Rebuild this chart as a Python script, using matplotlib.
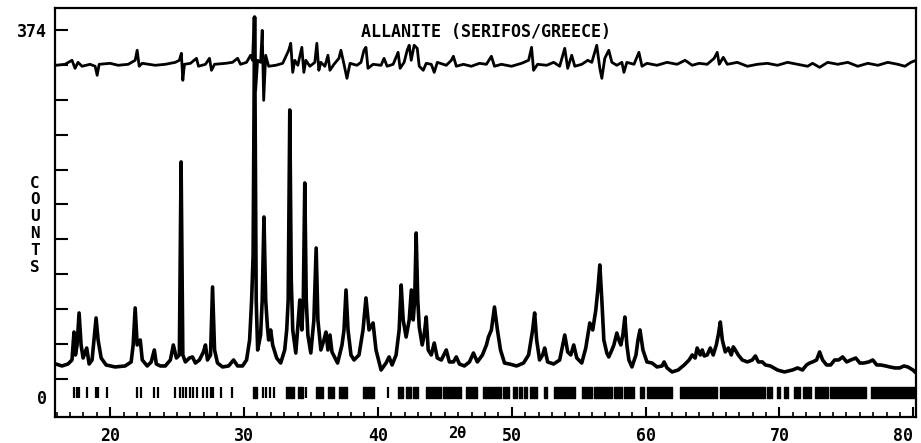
import matplotlib.pyplot as plt
from matplotlib.ticker import MultipleLocator, FixedLocator

two_theta = [15.95, 16.40, 16.85, 17.15, 17.30, 17.41, 17.53, 17.68, 17.83, 17.98,
             18.25, 18.43, 18.65, 18.95, 19.10, 19.33, 19.70, 20.37, 21.12, 21.57,
             21.72, 21.87, 22.02, 22.25, 22.40, 22.77, 23.07, 23.30, 23.45, 23.75,
             24.12, 24.50, 24.72, 24.95, 25.17, 25.30, 25.43, 25.62, 25.92, 26.15,
             26.37, 26.67, 26.97, 27.12, 27.27, 27.50, 27.65, 27.80, 28.02, 28.40,
             28.85, 29.22, 29.52, 29.89, 30.19, 30.42, 30.57, 30.68, 30.79, 30.91,
             31.02, 31.24, 31.36, 31.49, 31.62, 31.75, 31.84, 31.99, 32.14, 32.44,
             32.74, 33.04, 33.19, 33.30, 33.42, 33.53, 33.64, 33.87, 34.17, 34.32,
             34.43, 34.54, 34.65, 34.77, 34.99, 35.22, 35.39, 35.52, 35.74, 35.97,
             36.12, 36.27, 36.42, 36.57, 36.99, 37.32, 37.47, 37.62, 37.77, 37.99,
             38.22, 38.59, 38.89, 39.11, 39.34, 39.64, 39.86, 40.24, 40.61, 40.84,
             41.06, 41.36, 41.59, 41.74, 41.89, 42.11, 42.34, 42.50, 42.64, 42.75,
             42.86, 42.98, 43.09, 43.31, 43.46, 43.61, 43.76, 43.99, 44.21, 44.44,
             44.74, 45.11, 45.34, 45.64, 45.86, 46.09, 46.46, 46.84, 47.14, 47.43,
             47.81, 48.11, 48.26, 48.48, 48.71, 48.93, 49.16, 49.46, 49.83, 50.36,
             50.88, 51.26, 51.56, 51.71, 51.86, 52.08, 52.31, 52.46, 52.68, 53.13,
             53.58, 53.81, 53.96, 54.18, 54.41, 54.63, 54.86, 55.23, 55.53, 55.83,
             56.05, 56.28, 56.43, 56.58, 56.73, 56.88, 57.10, 57.25, 57.48, 57.63,
             57.85, 58.00, 58.15, 58.30, 58.45, 58.60, 58.75, 58.98, 59.28, 59.43,
             59.58, 59.80, 60.10, 60.48, 60.85, 61.23, 61.38, 61.60, 61.98, 62.43,
             62.88, 63.25, 63.48, 63.70, 63.85, 64.08, 64.23, 64.38, 64.60, 64.83,
             65.05, 65.28, 65.43, 65.58, 65.73, 65.95, 66.18, 66.40, 66.55, 66.70,
             66.92, 67.22, 67.60, 67.97, 68.20, 68.42, 68.72, 68.95, 69.32, 69.85,
             70.37, 70.97, 71.35, 71.72, 72.02, 72.25, 72.47, 72.77, 73.00, 73.22,
             73.52, 73.82, 74.12, 74.42, 74.72, 75.02, 75.32, 75.70, 76.00, 76.30,
             76.67, 76.97, 77.27, 77.57, 77.94, 78.24, 78.62, 78.99, 79.29, 79.59,
             79.97, 80.20]
counts = [33.6, 31.6, 33.6, 37.7, 66.2, 42.8, 53.0, 85.6, 53.0, 39.7,
          49.9, 33.6, 37.7, 80.5, 58.1, 39.7, 32.6, 30.6, 31.6, 35.7,
          53.0, 90.7, 53.0, 58.1, 37.7, 31.6, 35.7, 47.9, 33.6, 31.6,
          31.6, 37.7, 53.0, 39.7, 42.8, 239.5, 42.8, 35.7, 39.7, 40.8,
          34.6, 37.7, 45.9, 53.0, 37.7, 42.8, 112.1, 47.9, 34.6, 30.6,
          31.6, 37.7, 31.6, 31.6, 37.7, 58.1, 98.8, 144.7, 387.2, 98.8,
          47.9, 63.2, 98.8, 183.4, 98.8, 71.3, 58.1, 68.3, 53.0, 39.7,
          34.6, 47.9, 68.3, 98.8, 292.5, 119.2, 68.3, 44.8, 98.8, 68.3,
          98.8, 218.1, 98.8, 63.2, 44.8, 78.5, 151.8, 78.5, 47.9, 58.1,
          66.2, 47.9, 63.2, 45.9, 34.6, 53.0, 68.3, 109.0, 68.3, 42.8,
          37.7, 42.8, 68.3, 100.9, 68.3, 75.4, 47.9, 27.5, 34.6, 40.8,
          32.6, 42.8, 68.3, 114.1, 78.5, 61.1, 78.5, 109.0, 78.5, 98.8,
          167.1, 98.8, 71.3, 53.0, 63.2, 81.5, 47.9, 42.8, 55.0, 39.7,
          37.7, 47.9, 35.7, 35.7, 40.8, 33.6, 31.6, 35.7, 44.8, 35.7,
          42.8, 53.0, 61.1, 68.3, 91.7, 68.3, 47.9, 34.6, 33.6, 31.6,
          34.6, 42.8, 68.3, 85.6, 58.1, 37.7, 42.8, 49.9, 35.7, 33.6,
          37.7, 53.0, 63.2, 45.9, 42.8, 53.0, 39.7, 34.6, 49.9, 75.4,
          68.3, 88.7, 109.0, 134.5, 98.8, 58.1, 44.8, 40.8, 47.9, 53.0,
          65.2, 58.1, 53.0, 63.2, 81.5, 53.0, 37.7, 30.6, 42.8, 58.1,
          68.3, 47.9, 35.7, 34.6, 30.6, 31.6, 35.7, 29.6, 25.5, 27.5,
          32.6, 37.7, 42.8, 39.7, 49.9, 42.8, 47.9, 41.8, 42.8, 49.9,
          42.8, 53.0, 63.2, 76.4, 58.1, 45.9, 49.9, 42.8, 51.0, 47.9,
          42.8, 37.7, 35.7, 37.7, 41.8, 35.7, 35.7, 32.6, 31.6, 27.5,
          25.5, 27.5, 29.6, 27.5, 32.6, 34.6, 35.7, 37.7, 45.9, 37.7,
          32.6, 32.6, 37.7, 37.7, 40.8, 35.7, 37.7, 39.7, 34.6, 34.6,
          35.7, 37.7, 32.6, 32.6, 31.6, 30.6, 29.6, 29.6, 31.6, 30.6,
          27.5, 24.5]

# difference curve (obs - calc), drawn around an offset near the top
diff_offset = 339
diff_two_theta = [15.95, 16.63, 17.15, 17.38, 17.60, 17.90, 18.50, 18.88, 19.03, 19.18,
                  20.00, 20.60, 21.35, 21.87, 22.02, 22.17, 22.40, 23.37, 24.12, 24.87,
                  25.17, 25.32, 25.43, 25.55, 26.00, 26.45, 26.60, 27.12, 27.42, 27.57,
                  27.80, 28.62, 29.14, 29.52, 29.74, 30.19, 30.49, 30.64, 30.76, 30.87,
                  31.02, 31.24, 31.36, 31.47, 31.62, 31.84, 32.37, 32.89, 33.34, 33.49,
                  33.64, 33.79, 34.02, 34.32, 34.47, 34.62, 34.92, 35.29, 35.44, 35.59,
                  35.74, 36.04, 36.27, 36.42, 36.72, 37.09, 37.24, 37.47, 37.69, 37.92,
                  38.44, 38.74, 38.96, 39.11, 39.26, 39.64, 40.24, 40.46, 40.69, 41.14,
                  41.51, 41.66, 41.96, 42.19, 42.34, 42.49, 42.71, 42.94, 43.09, 43.39,
                  43.61, 43.99, 44.21, 44.44, 45.11, 45.49, 45.64, 45.86, 46.39, 46.98,
                  47.59, 48.11, 48.48, 48.71, 49.23, 49.98, 50.73, 51.26, 51.48, 51.63,
                  51.93, 52.61, 53.13, 53.58, 53.96, 54.18, 54.48, 54.71, 55.23, 55.68,
                  55.98, 56.35, 56.58, 56.73, 56.95, 57.25, 57.48, 57.85, 58.23, 58.38,
                  58.60, 59.13, 59.50, 59.73, 60.10, 60.85, 61.60, 62.35, 62.95, 63.48,
                  64.00, 64.60, 65.12, 65.35, 65.50, 65.80, 66.10, 66.85, 67.60, 68.35,
                  69.10, 69.85, 70.60, 71.35, 72.10, 72.47, 73.00, 73.60, 74.35, 75.10,
                  75.85, 76.60, 77.35, 78.09, 78.84, 79.37, 79.82, 80.20]
diff_counts = [-1.0, 0.0, 4.1, -4.1, 2.0, -2.0, 0.0, -2.0, -11.2, 0.0,
               1.0, -1.0, 0.0, 4.1, 14.3, -2.0, 1.0, -1.0, 0.0, 2.0,
               4.1, 11.2, -16.3, 0.0, 1.0, 6.1, -2.0, 0.0, 6.1, -6.1,
               0.0, 1.0, 2.0, 6.1, 0.0, 2.0, 9.2, 4.1, 47.9, -26.5,
               4.1, 2.0, 34.6, -36.7, 9.2, -2.0, -1.0, 1.0, 14.3, 21.4,
               -8.2, 4.1, -1.0, 17.3, -8.2, 4.1, -2.0, 2.0, 21.4, -6.1,
               2.0, -2.0, 9.2, -6.1, 0.0, 6.1, 14.3, 0.0, -14.3, 1.0,
               -1.0, 2.0, 14.3, 17.3, -4.1, 0.0, -1.0, 6.1, -2.0, 0.0,
               12.2, -4.1, 2.0, 14.3, 19.4, 4.1, 19.4, 16.3, -2.0, -6.1,
               1.0, 0.0, -8.2, 2.0, -1.0, 4.1, 8.2, -2.0, 0.0, -2.0,
               1.0, 0.0, 8.2, -2.0, 0.0, -2.0, 1.0, 4.1, 17.3, -6.1,
               0.0, -1.0, 2.0, -2.0, 16.3, -4.1, 9.2, -2.0, 0.0, 4.1,
               2.0, 19.4, -4.1, -14.3, 6.1, 14.3, 2.0, -1.0, 2.0, -8.2,
               2.0, 0.0, 12.2, -2.0, 1.0, -1.0, 2.0, 0.0, 4.1, -1.0,
               1.0, 0.0, 6.1, 12.2, 0.0, 7.1, 0.0, 2.0, -2.0, 0.0,
               1.0, -1.0, 2.0, 0.0, -2.0, 1.0, -3.1, 2.0, 0.0, 2.0,
               -2.0, 1.0, -1.0, 2.0, 0.0, -2.0, 2.0, 4.1]

# reflection markers: single lines and the solid bands where they merge
refl_lines = [17.32, 17.50, 17.68, 18.25, 18.91, 19.06, 19.80, 21.99, 22.29, 23.30,
              23.56, 24.87, 25.25, 25.47, 25.70, 26.00, 26.22, 26.52, 26.90, 27.20,
              27.50, 27.72, 28.25, 29.14, 31.39, 31.62, 31.92, 32.22, 34.62, 40.76]
refl_bands = [(30.64, 30.94), (33.12, 33.72), (34.02, 34.39), (35.37, 35.89),
              (36.27, 36.72), (37.09, 37.69), (38.89, 39.71), (41.51, 41.89),
              (42.11, 42.49), (42.64, 43.01), (43.61, 44.74), (44.89, 45.64),
              (45.71, 46.24), (46.61, 47.43), (47.88, 48.63), (48.71, 49.23),
              (49.38, 49.83), (50.13, 50.36), (50.51, 50.73), (50.88, 51.11),
              (51.33, 51.86), (52.38, 52.61), (53.13, 54.71), (55.23, 55.98),
              (56.13, 57.48), (57.63, 58.23), (58.38, 59.13), (59.58, 59.88),
              (60.10, 61.98), (62.58, 65.35), (65.58, 68.95), (69.10, 69.47),
              (69.85, 70.07), (70.37, 70.60), (71.12, 71.50), (71.72, 72.32),
              (72.62, 73.60), (73.75, 76.44), (76.82, 80.19)]

mono = 'DejaVu Sans Mono'

fig = plt.figure(figsize=(9.21, 4.43), dpi=100)
ax = fig.add_axes([0.0597, 0.0587, 0.9349, 0.9233])

ax.plot(two_theta, counts, color='black', lw=2.6, solid_joinstyle='round')
ax.plot(diff_two_theta, [diff_offset + d for d in diff_counts],
        color='black', lw=2.0, solid_joinstyle='round')
ax.vlines(refl_lines, -1, 10, color='black', lw=1.6)
ax.broken_barh([(s, e - s) for s, e in refl_bands], (-1, 11), color='black')

ax.set_xlim(15.88, 80.2)
ax.set_ylim(-20.4, 396.4)

for sp in ax.spines.values():
    sp.set_linewidth(1.6)

ax.xaxis.set_major_locator(MultipleLocator(10))
ax.xaxis.set_minor_locator(MultipleLocator(1))
ax.tick_params(axis='x', which='major', direction='in', length=7, width=1.5, pad=7)
ax.tick_params(axis='x', which='minor', direction='in', length=3.5, width=1.2)

ax.yaxis.set_major_locator(FixedLocator([0, 374]))
ax.yaxis.set_minor_locator(FixedLocator([374 - 35.55 * k for k in range(11)]))
ax.yaxis.remove_overlapping_locs = False
ax.tick_params(axis='y', which='major', length=0, pad=6)
ax.tick_params(axis='y', which='minor', direction='in', length=9, width=1.5)

ax.tick_params(axis='both', which='major', labelsize=12)
for lab in ax.get_xticklabels() + ax.get_yticklabels():
    lab.set_fontfamily(mono)
    lab.set_fontweight('bold')

ax.text(0.5, 0.941, 'ALLANITE (SERIFOS/GREECE)', transform=ax.transAxes,
        ha='center', va='center', fontfamily=mono, fontweight='bold', fontsize=12)
fig.text(0.038, 0.492, 'C\nO\nU\nN\nT\nS', ha='center', va='center',
         fontfamily=mono, fontweight='bold', fontsize=11.5, linespacing=1.15)
fig.text(0.496, 0.004, '2θ', ha='center', va='bottom',
         fontfamily=mono, fontweight='bold', fontsize=11)

# the "80" label sits left of its tick so it stays inside the picture
fig.canvas.draw()
for tick in ax.xaxis.get_major_ticks():
    if abs(tick.get_loc() - 80) < 1e-6:
        tick.label1.set_horizontalalignment('right')

fig.savefig('out.png', dpi=100)
